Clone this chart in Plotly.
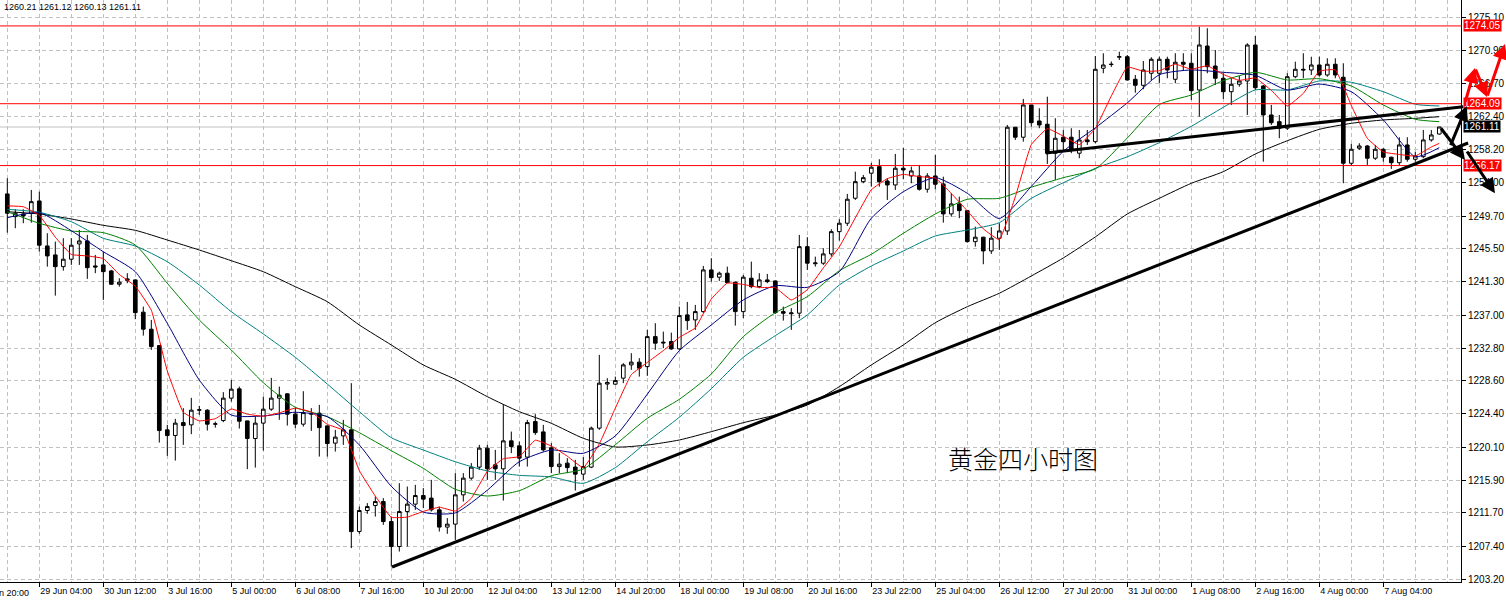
import plotly.graph_objects as go

# ---------------- data ----------------
bars = list(range(180))

opens = [1252.54, 1249.63, 1249.98, 1250.07, 1251.64, 1245.88, 1244.73, 1243.23, 1244.18, 1246.14,
         1246.52, 1243.32, 1243.45, 1242.68, 1240.98, 1241.66, 1241.53, 1237.40, 1235.22, 1233.12,
         1222.33, 1221.60, 1223.26, 1222.97, 1224.85, 1224.85, 1223.06, 1223.52, 1226.39, 1227.58,
         1223.48, 1221.22, 1223.19, 1224.98, 1226.39, 1226.94, 1224.34, 1223.06, 1224.34, 1224.47,
         1222.84, 1220.63, 1221.56, 1222.33, 1209.31, 1212.00, 1212.64, 1213.15, 1210.59, 1207.39,
         1211.87, 1212.82, 1213.92, 1213.59, 1212.09, 1209.88, 1210.26, 1214.01, 1216.15, 1217.56,
         1219.99, 1217.85, 1217.34, 1220.92, 1220.28, 1218.84, 1223.39, 1222.07, 1220.03, 1217.63,
         1218.07, 1217.56, 1216.66, 1217.56, 1222.55, 1228.20, 1228.18, 1228.95, 1230.65, 1231.00,
         1230.43, 1234.27, 1233.56, 1233.63, 1232.70, 1237.05, 1236.41, 1237.47, 1242.81, 1241.88,
         1242.39, 1241.24, 1237.47, 1241.75, 1240.67, 1241.53, 1241.40, 1237.47, 1237.20, 1237.27,
         1245.79, 1243.60, 1243.67, 1244.86, 1247.71, 1248.79, 1251.99, 1254.11, 1255.19, 1256.03,
         1254.20, 1253.69, 1255.83, 1254.84, 1254.84, 1253.14, 1254.84, 1253.82, 1249.98, 1251.26,
         1250.40, 1246.43, 1247.00, 1245.24, 1246.87, 1247.80, 1261.08, 1259.80, 1263.93, 1261.88,
         1261.46, 1257.75, 1259.80, 1259.80, 1257.75, 1259.45, 1259.23, 1268.63, 1269.10, 1270.05,
         1270.11, 1267.22, 1266.45, 1267.99, 1267.99, 1269.78, 1267.22, 1269.40, 1269.27, 1265.85,
         1271.48, 1268.92, 1267.35, 1265.63, 1266.58, 1267.00, 1271.61, 1266.36, 1262.65, 1261.79,
         1260.95, 1267.55, 1268.50, 1268.41, 1269.05, 1267.77, 1269.14, 1267.48, 1256.47, 1258.39,
         1258.68, 1257.11, 1258.26, 1257.24, 1256.54, 1258.81, 1256.98, 1257.31, 1259.45, 1260.21]

highs = [1254.55, 1250.58, 1250.58, 1253.05, 1252.83, 1247.51, 1246.43, 1246.87, 1246.87, 1247.93,
         1247.29, 1244.73, 1245.15, 1242.81, 1241.75, 1242.39, 1241.60, 1238.11, 1236.41, 1233.20,
         1222.97, 1223.74, 1225.11, 1226.43, 1225.40, 1224.98, 1223.39, 1227.16, 1228.73, 1227.87,
         1223.50, 1224.03, 1226.59, 1228.99, 1227.87, 1227.03, 1225.18, 1227.28, 1225.11, 1225.53,
         1222.90, 1222.33, 1223.61, 1228.31, 1212.51, 1212.95, 1213.79, 1213.59, 1211.23, 1215.51,
         1215.07, 1215.29, 1214.87, 1215.93, 1212.51, 1211.03, 1216.79, 1216.79, 1218.07, 1220.41,
         1220.41, 1219.77, 1225.62, 1222.11, 1220.83, 1223.61, 1224.34, 1222.97, 1220.63, 1219.35,
         1218.71, 1218.49, 1218.84, 1222.75, 1231.93, 1228.95, 1229.15, 1230.87, 1232.15, 1231.51,
         1235.13, 1235.99, 1234.91, 1234.78, 1238.11, 1238.71, 1238.33, 1243.32, 1244.31, 1242.59,
         1243.23, 1241.30, 1242.17, 1243.87, 1242.39, 1242.30, 1241.45, 1238.11, 1237.91, 1247.29,
         1247.00, 1244.51, 1245.59, 1248.02, 1249.30, 1252.54, 1255.39, 1254.97, 1256.51, 1256.98,
         1254.55, 1257.66, 1258.43, 1256.03, 1256.25, 1255.19, 1257.53, 1254.75, 1252.63, 1252.19,
         1250.45, 1248.35, 1247.05, 1248.28, 1248.79, 1261.37, 1261.10, 1264.70, 1263.95, 1263.51,
         1264.99, 1262.23, 1260.73, 1260.95, 1260.73, 1260.73, 1270.20, 1270.55, 1269.50, 1270.75,
         1270.33, 1267.77, 1269.56, 1270.04, 1270.11, 1270.11, 1270.55, 1270.55, 1270.55, 1273.95,
         1273.75, 1270.97, 1267.99, 1267.35, 1267.64, 1271.83, 1272.76, 1266.49, 1263.93, 1262.65,
         1267.99, 1269.47, 1270.55, 1270.11, 1270.11, 1269.91, 1269.91, 1269.27, 1258.94, 1259.03,
         1258.81, 1258.81, 1258.39, 1257.31, 1259.80, 1259.80, 1257.95, 1260.73, 1260.73, 1261.12]

lows = [1247.58, 1248.15, 1248.79, 1248.86, 1245.15, 1243.23, 1239.52, 1242.72, 1243.45, 1243.45,
        1241.66, 1242.39, 1238.97, 1240.89, 1240.67, 1241.11, 1236.50, 1234.40, 1232.57, 1220.70,
        1219.00, 1218.40, 1220.41, 1221.78, 1224.25, 1222.24, 1222.62, 1223.32, 1225.95, 1222.50,
        1217.30, 1217.50, 1219.68, 1224.76, 1223.61, 1222.88, 1222.55, 1222.75, 1222.20, 1218.91,
        1218.91, 1219.55, 1220.41, 1207.19, 1209.02, 1211.58, 1211.23, 1210.17, 1204.83, 1206.75,
        1207.39, 1212.09, 1212.31, 1211.87, 1209.31, 1209.02, 1208.25, 1213.15, 1215.93, 1217.21,
        1215.93, 1215.93, 1213.28, 1219.35, 1217.63, 1217.63, 1221.69, 1219.55, 1216.79, 1216.79,
        1216.79, 1214.56, 1215.93, 1217.43, 1222.33, 1227.45, 1228.09, 1228.31, 1230.01, 1229.15,
        1229.24, 1232.57, 1232.79, 1232.57, 1232.57, 1235.13, 1235.13, 1237.27, 1241.31, 1241.40,
        1241.11, 1235.68, 1236.63, 1240.47, 1240.47, 1241.11, 1237.18, 1236.32, 1235.13, 1236.63,
        1242.81, 1243.23, 1243.45, 1244.51, 1246.56, 1248.44, 1251.77, 1253.91, 1253.47, 1253.47,
        1251.77, 1253.05, 1254.42, 1253.91, 1252.96, 1252.70, 1253.14, 1248.86, 1249.63, 1249.43,
        1246.30, 1245.79, 1243.54, 1244.86, 1245.37, 1247.29, 1259.45, 1259.23, 1261.15, 1260.95,
        1256.38, 1254.33, 1258.17, 1257.75, 1257.11, 1258.81, 1259.03, 1267.99, 1268.80, 1269.69,
        1267.07, 1265.50, 1265.94, 1267.13, 1266.71, 1267.35, 1266.71, 1268.41, 1264.57, 1262.43,
        1267.99, 1266.49, 1264.70, 1263.93, 1266.27, 1262.65, 1265.85, 1256.67, 1261.37, 1259.67,
        1260.73, 1267.35, 1267.35, 1267.77, 1267.55, 1267.55, 1267.35, 1253.91, 1256.12, 1258.17,
        1256.25, 1256.89, 1256.67, 1255.74, 1256.25, 1256.67, 1256.67, 1257.11, 1259.23, 1260.13]

closes = [1250.07, 1250.07, 1249.72, 1251.55, 1245.97, 1244.60, 1243.23, 1244.18, 1245.97, 1246.52,
          1243.10, 1243.19, 1242.59, 1240.98, 1241.24, 1241.49, 1237.34, 1235.22, 1232.99, 1222.24,
          1221.60, 1223.19, 1222.88, 1224.85, 1224.90, 1223.06, 1223.10, 1226.39, 1227.54, 1223.44,
          1221.22, 1223.19, 1224.98, 1226.39, 1226.77, 1224.34, 1223.06, 1224.54, 1224.40, 1222.62,
          1220.58, 1221.40, 1222.33, 1209.31, 1212.00, 1212.51, 1213.15, 1210.59, 1207.39, 1211.87,
          1212.82, 1213.92, 1213.46, 1212.09, 1209.88, 1210.26, 1214.01, 1216.15, 1217.56, 1219.99,
          1217.34, 1217.34, 1220.92, 1220.19, 1218.71, 1223.26, 1221.98, 1219.77, 1217.63, 1217.94,
          1217.50, 1216.66, 1217.63, 1222.55, 1228.31, 1228.40, 1228.64, 1230.65, 1231.00, 1230.23,
          1234.27, 1233.43, 1233.47, 1232.70, 1236.96, 1236.32, 1237.47, 1242.81, 1241.82, 1242.39,
          1241.18, 1237.47, 1241.88, 1240.67, 1241.53, 1241.31, 1237.34, 1237.27, 1237.30, 1245.79,
          1243.67, 1243.70, 1244.86, 1247.71, 1248.79, 1251.86, 1254.11, 1254.62, 1255.96, 1254.11,
          1253.69, 1255.83, 1255.61, 1255.48, 1253.14, 1254.84, 1253.78, 1249.98, 1251.26, 1250.40,
          1246.43, 1247.00, 1245.24, 1246.87, 1247.80, 1261.08, 1259.80, 1263.93, 1261.66, 1261.37,
          1257.75, 1259.67, 1259.23, 1258.17, 1259.45, 1259.23, 1268.50, 1269.05, 1269.14, 1270.11,
          1267.13, 1266.45, 1268.41, 1269.78, 1269.78, 1268.41, 1269.40, 1269.14, 1265.76, 1271.61,
          1268.83, 1267.35, 1265.63, 1266.58, 1267.00, 1271.61, 1266.14, 1262.65, 1261.66, 1260.95,
          1267.55, 1268.50, 1268.41, 1269.05, 1267.77, 1269.14, 1267.77, 1256.47, 1258.26, 1258.68,
          1257.11, 1258.26, 1257.24, 1256.54, 1258.81, 1256.98, 1257.40, 1259.45, 1260.09, 1261.11]

# fast (red) average line, read at every 2nd bar
red_bars = [0, 2, 4, 6, 8, 10, 12, 14, 16, 18, 20, 22, 24, 26, 28, 30, 32, 34, 36, 38, 40, 42, 44,
            46, 48, 50, 52, 54, 56, 58, 60, 62, 64, 66, 68, 70, 72, 74, 76, 78, 80, 82, 84, 86, 88,
            90, 92, 94, 96, 98, 100, 102, 104, 106, 108, 110, 112, 114, 116, 118, 120, 122, 124,
            126, 128, 130, 132, 134, 136, 138, 140, 142, 144, 146, 148, 150, 152, 154, 156, 158,
            160, 162, 164, 166, 168, 170, 172, 174, 176, 178, 179]
ma_red = [1251.01, 1250.90, 1249.80, 1247.01, 1244.79, 1244.60, 1244.27, 1242.22, 1240.73, 1237.66,
          1229.88, 1224.58, 1223.48, 1223.76, 1225.00, 1224.34, 1224.07, 1224.51, 1225.11, 1224.62,
          1223.04, 1222.27, 1217.12, 1213.86, 1211.13, 1211.16, 1211.89, 1212.43, 1211.94, 1213.57,
          1217.01, 1218.63, 1218.90, 1221.01, 1220.27, 1218.96, 1217.47, 1220.53, 1225.10, 1229.40,
          1230.96, 1232.48, 1234.17, 1235.38, 1239.08, 1241.13, 1240.95, 1240.55, 1240.55, 1238.95,
          1240.27, 1243.06, 1245.75, 1249.47, 1253.07, 1254.50, 1255.04, 1254.75, 1254.57, 1252.60,
          1250.37, 1248.07, 1246.67, 1252.16, 1258.85, 1260.90, 1259.94, 1258.85, 1260.92, 1265.07,
          1268.79, 1268.25, 1268.31, 1269.16, 1268.50, 1268.95, 1267.84, 1267.08, 1267.39, 1265.81,
          1263.79, 1265.41, 1268.26, 1268.43, 1263.88, 1259.66, 1257.91, 1257.59, 1257.39, 1258.55,
          1259.01]

# slower average lines, read at every 4th bar
ma_bars = [0, 4, 8, 12, 16, 20, 24, 28, 32, 36, 40, 44, 48, 52, 56, 60, 64, 68, 72, 76, 80, 84, 88,
           92, 96, 100, 104, 108, 112, 116, 120, 124, 128, 132, 136, 140, 144, 148, 152, 156, 160,
           164, 168, 172, 176, 179]
ma_blue = [1249.50, 1250.14, 1247.83, 1245.14, 1242.58, 1235.97, 1228.71, 1224.23, 1224.11, 1224.58,
           1224.02, 1220.40, 1215.10, 1211.80, 1211.70, 1214.60, 1218.25, 1219.75, 1219.33, 1221.55,
           1226.90, 1232.47, 1235.76, 1238.96, 1240.79, 1240.58, 1242.58, 1249.42, 1252.82, 1254.62,
           1252.62, 1249.40, 1253.50, 1258.00, 1261.00, 1264.20, 1267.80, 1268.41, 1268.11, 1267.73,
           1265.85, 1266.61, 1265.63, 1262.01, 1257.31, 1258.46]
ma_green = [1250.26, 1248.78, 1247.79, 1247.58, 1246.00, 1241.10, 1236.40, 1232.56, 1228.37, 1225.22,
            1224.02, 1221.97, 1219.66, 1217.41, 1214.72, 1213.86, 1214.54, 1216.46, 1217.32, 1220.42,
            1223.81, 1226.24, 1229.48, 1234.26, 1237.33, 1239.38, 1242.71, 1244.81, 1247.50, 1249.97,
            1251.85, 1251.98, 1253.40, 1254.62, 1255.74, 1259.70, 1263.98, 1265.21, 1267.04, 1268.11,
            1267.13, 1267.29, 1266.36, 1263.93, 1262.10, 1261.79]
ma_teal = [1250.57, 1250.19, 1248.98, 1246.86, 1245.87, 1243.86, 1240.88, 1237.46, 1234.61, 1231.62,
           1228.20, 1224.66, 1221.33, 1219.75, 1218.25, 1217.06, 1216.51, 1216.30, 1215.49, 1217.49,
           1220.81, 1223.94, 1227.60, 1231.62, 1234.39, 1237.04, 1240.88, 1243.31, 1245.23, 1247.15,
           1247.92, 1248.86, 1251.97, 1253.97, 1255.82, 1257.30, 1259.11, 1261.20, 1263.63, 1265.85,
           1265.85, 1267.00, 1266.83, 1265.63, 1264.02, 1263.80]
ma_black = [1250.26, 1249.97, 1249.33, 1248.52, 1247.88, 1246.64, 1245.36, 1243.99, 1242.58, 1240.66,
            1238.74, 1235.76, 1233.20, 1230.64, 1228.80, 1226.58, 1224.66, 1223.17, 1221.25, 1220.14,
            1220.39, 1221.03, 1222.10, 1223.25, 1224.23, 1225.51, 1227.86, 1230.64, 1233.20, 1236.05,
            1238.10, 1239.82, 1242.03, 1244.34, 1247.03, 1249.97, 1251.98, 1253.90, 1255.39, 1257.65,
            1259.35, 1260.81, 1261.58, 1262.01, 1262.22, 1262.43]

price_ticks = [1275.10, 1270.90, 1266.70, 1262.40, 1258.20, 1254.00, 1249.70, 1245.50, 1241.30,
               1237.00, 1232.80, 1228.60, 1224.40, 1220.10, 1215.90, 1211.70, 1207.40, 1203.20]
time_tick_bars = [4, 12, 20, 28, 36, 44, 52, 60, 68, 76, 84, 92, 100, 108, 116, 124, 132, 140,
                  148, 156, 164, 172]
time_tick_labels = ["29 Jun 04:00", "30 Jun 12:00", "3 Jul 16:00", "5 Jul 00:00", "6 Jul 08:00",
                    "7 Jul 16:00", "10 Jul 20:00", "12 Jul 04:00", "13 Jul 12:00", "14 Jul 20:00",
                    "18 Jul 00:00", "19 Jul 08:00", "20 Jul 16:00", "23 Jul 22:00", "25 Jul 04:00",
                    "26 Jul 12:00", "27 Jul 20:00", "31 Jul 00:00", "1 Aug 08:00", "2 Aug 16:00",
                    "4 Aug 00:00", "7 Aug 04:00"]
cut_tick_bar = -4
cut_tick_label = "27 Jun 20:00"

level_lines = [1274.05, 1264.09, 1256.17]
bid_price = 1261.11
header_text = "1260.21 1261.12 1260.13 1261.11"
title_text = "黄金四小时图"
title_pos = (126.9, 1218.7)

# drawn trend lines (bar, price) endpoints
trend_support = [(48.1, 1204.77), (182.6, 1259.06)]
trend_upper = [(129.8, 1257.78), (182.0, 1263.71)]
# drawn arrows: (tail bar, tail price, head bar, head price)
black_arrows = [(180.34, 1258.59, 182.43, 1263.80),
                (179.09, 1261.11, 182.21, 1256.88),
                (182.34, 1258.16, 185.96, 1252.62)]
red_zigzag_bars = [182.21, 183.46, 184.96, 187.21]
red_zigzag_prices = [1264.18, 1268.66, 1264.95, 1271.74]

# ---------------- layout geometry ----------------
W, H = 1506, 602
M_L, M_R, M_T, M_B = 0, 45, 0, 20
X_RANGE = [-0.9125, 181.7125]
Y_RANGE = [1202.85, 1277.37]
PLOT_W = W - M_L - M_R
PLOT_H = H - M_T - M_B
PX_PER_BAR = PLOT_W / (X_RANGE[1] - X_RANGE[0])
PX_PER_PRICE = PLOT_H / (Y_RANGE[1] - Y_RANGE[0])


def px(bar):
    return (bar - X_RANGE[0]) / (X_RANGE[1] - X_RANGE[0])


def py(price):
    return (price - Y_RANGE[0]) / (Y_RANGE[1] - Y_RANGE[0])


FONT = "Liberation Sans, Arial, sans-serif"
GRID = "#c0c0c0"

fig = go.Figure()
fig.add_trace(go.Candlestick(
    x=bars, open=opens, high=highs, low=lows, close=closes,
    increasing=dict(line=dict(color="black", width=1), fillcolor="white"),
    decreasing=dict(line=dict(color="black", width=1), fillcolor="black"),
    whiskerwidth=0, showlegend=False, hoverinfo="skip"))

for vals, color in [(ma_black, "#000000"), (ma_teal, "#008080"), (ma_green, "#008000"),
                    (ma_blue, "#000080")]:
    fig.add_trace(go.Scatter(x=ma_bars, y=vals, mode="lines",
                             line=dict(color=color, width=1, shape="spline", smoothing=0.6),
                             showlegend=False, hoverinfo="skip"))
fig.add_trace(go.Scatter(x=red_bars, y=ma_red, mode="lines",
                         line=dict(color="#ff0000", width=1, shape="spline", smoothing=0.3),
                         showlegend=False, hoverinfo="skip"))

shapes = []
shapes.append(dict(type="line", xref="paper", x0=0, x1=1, yref="y", y0=bid_price, y1=bid_price,
                   line=dict(color=GRID, width=1), layer="below"))
for lv in level_lines:
    shapes.append(dict(type="line", xref="paper", yref="paper", x0=0, x1=1, y0=py(lv), y1=py(lv),
                       line=dict(color="#ff0000", width=1), layer="above"))
for (b0, p0), (b1, p1) in [trend_support, trend_upper]:
    shapes.append(dict(type="line", xref="paper", yref="paper",
                       x0=px(b0), y0=py(p0), x1=px(b1), y1=py(p1),
                       line=dict(color="black", width=3), layer="above"))

annotations = []
# level labels on the price axis
for lv in level_lines:
    annotations.append(dict(xref="paper", x=1, xanchor="left", xshift=2, yref="y", y=lv,
                            text=f"{lv:.2f}", showarrow=False, bgcolor="#ff0000",
                            font=dict(family=FONT, size=10, color="white"), borderpad=0))
annotations.append(dict(xref="paper", x=1, xanchor="left", xshift=2, yref="y", y=bid_price,
                        text=f"{bid_price:.2f}", showarrow=False, bgcolor="black",
                        font=dict(family=FONT, size=10, color="white"), borderpad=0))
# header
annotations.append(dict(xref="paper", yref="paper", x=0, y=1, xanchor="left", yanchor="top",
                        xshift=2, text=header_text, showarrow=False,
                        font=dict(family=FONT, size=9, color="black")))
# chinese title
annotations.append(dict(xref="x", yref="y", x=title_pos[0], y=title_pos[1], text=title_text,
                        showarrow=False,
                        font=dict(family="Noto Sans CJK SC", size=25, color="black", weight=300)))
# partially hidden first time label
annotations.append(dict(xref="paper", yref="paper", x=px(cut_tick_bar), y=0, xanchor="left",
                        yanchor="top", yshift=-4, text=cut_tick_label, showarrow=False,
                        font=dict(family=FONT, size=9, color="black")))


def arrow(tb, tp, hb, hp, color):
    return dict(xref="paper", yref="paper", x=px(hb), y=py(hp),
                ax=(tb - hb) * PX_PER_BAR, ay=-(tp - hp) * PX_PER_PRICE,
                axref="pixel", ayref="pixel", text="", showarrow=True,
                arrowhead=2, arrowsize=1, arrowwidth=3, arrowcolor=color)


for tb, tp, hb, hp in black_arrows:
    annotations.append(arrow(tb, tp, hb, hp, "black"))
for j in range(len(red_zigzag_bars) - 1):
    annotations.append(arrow(red_zigzag_bars[j], red_zigzag_prices[j],
                             red_zigzag_bars[j + 1], red_zigzag_prices[j + 1], "#ff0000"))

fig.update_layout(
    width=W, height=H,
    margin=dict(l=M_L, r=M_R, t=M_T, b=M_B, pad=0, autoexpand=False),
    plot_bgcolor="white", paper_bgcolor="white",
    showlegend=False, boxgap=0.35,
    font=dict(family=FONT, color="black"),
    shapes=shapes, annotations=annotations,
    xaxis=dict(range=X_RANGE, tickmode="array", tickvals=time_tick_bars, ticktext=time_tick_labels,
               ticks="outside", ticklen=4, tickcolor="black", ticklabelposition="outside right",
               showline=True, linecolor="black", linewidth=1, automargin=False,
               showgrid=True, gridcolor=GRID, griddash="4px,3px", gridwidth=1,
               zeroline=False, rangeslider=dict(visible=False), fixedrange=True,
               tickfont=dict(family=FONT, size=9, color="black"),
               minor=dict(tickmode="linear", tick0=0, dtick=4, showgrid=True, gridcolor=GRID,
                          griddash="4px,3px", gridwidth=1)),
    yaxis=dict(range=Y_RANGE, side="right", tickmode="array", tickvals=price_ticks,
               ticktext=[f"{v:.2f}" for v in price_ticks],
               ticks="outside", ticklen=4, tickcolor="black", automargin=False,
               showline=True, linecolor="black", linewidth=1,
               showgrid=True, gridcolor=GRID, griddash="4px,3px", gridwidth=1,
               zeroline=False, fixedrange=True,
               tickfont=dict(family=FONT, size=10, color="black")),
)

fig.write_html("out.html", config={"displayModeBar": False},
               post_script="document.body.style.margin='0px';document.body.style.padding='0px';"
                           "document.documentElement.style.overflow='hidden';")
